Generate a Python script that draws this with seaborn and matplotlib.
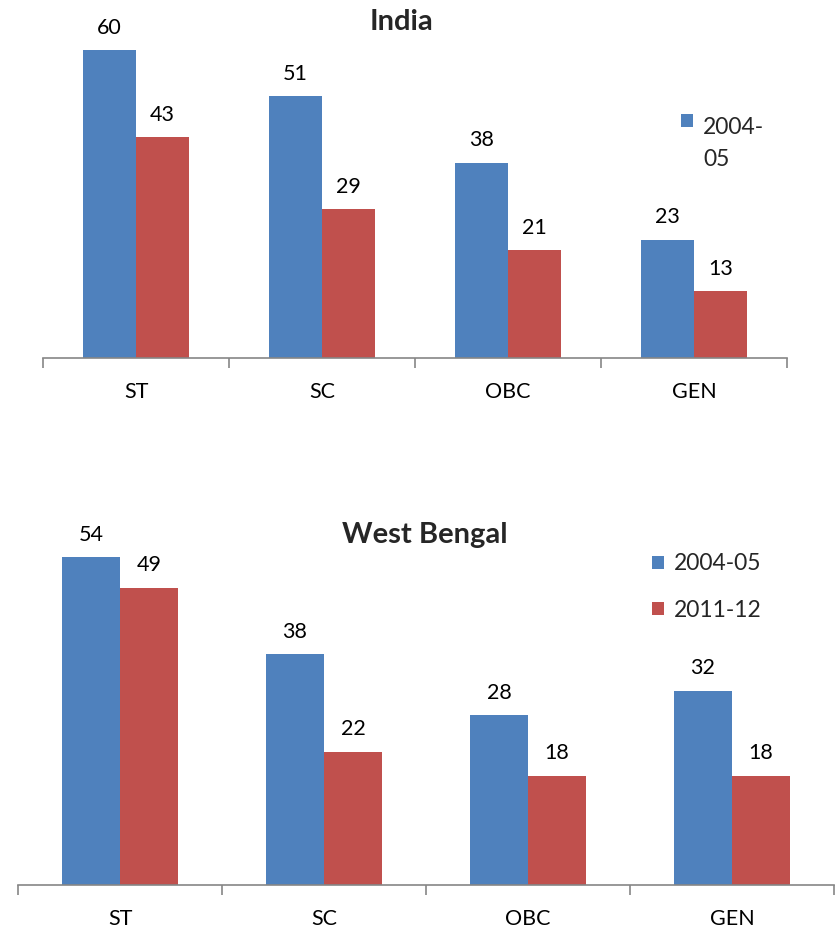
import matplotlib
matplotlib.use("Agg")
import matplotlib.pyplot as plt
import seaborn as sns
import pandas as pd
from matplotlib.patches import Patch, Rectangle
from matplotlib.legend_handler import HandlerPatch

categories = ["ST", "SC", "OBC", "GEN"]
periods = ["2004-05", "2011-12"]
india_0405 = [60, 51, 38, 23]
india_1112 = [43, 29, 21, 13]
wb_0405 = [54, 38, 28, 32]
wb_1112 = [49, 22, 18, 18]

BLUE = "#4F81BD"
RED = "#C0504D"
AXIS_GREY = "#868686"

sns.set_theme(style="white")
plt.rcParams["font.family"] = ["Lato", "DejaVu Sans"]


def frame(a, b):
    return pd.DataFrame({
        "category": categories * 2,
        "period": [periods[0]] * 4 + [periods[1]] * 4,
        "value": list(a) + list(b),
    })


W, H = 836, 934
fig = plt.figure(figsize=(W / 100, H / 100), dpi=100)


def panel(rect_px, ymax, df):
    left, top, right, bottom = rect_px
    ax = fig.add_axes([left / W, 1 - bottom / H, (right - left) / W, (bottom - top) / H])
    sns.barplot(data=df, x="category", y="value", hue="period",
                palette=[BLUE, RED], width=0.57, gap=0, saturation=1,
                order=categories, hue_order=periods, ax=ax, legend=False,
                linewidth=0, errorbar=None)
    ax.set_xlim(-0.5, len(categories) - 0.5)
    ax.set_ylim(0, ymax)
    ax.set_xlabel("")
    ax.set_ylabel("")
    ax.set_yticks([])
    for s in ["left", "top", "right"]:
        ax.spines[s].set_visible(False)
    ax.spines["bottom"].set_color(AXIS_GREY)
    ax.spines["bottom"].set_linewidth(1.2)
    ax.set_xticks(range(len(categories)))
    ax.set_xticklabels(categories, fontsize=15.5, color="black")
    ax.tick_params(axis="x", which="major", length=0, pad=17)
    ax.set_xticks([i - 0.5 for i in range(len(categories) + 1)], minor=True)
    ax.tick_params(axis="x", which="minor", length=7, width=1.2, color=AXIS_GREY,
                   direction="out", bottom=True)
    for cont in ax.containers:
        for bar in cont:
            v = bar.get_height()
            ax.annotate(f"{v:.0f}", (bar.get_x() + bar.get_width() / 2, v),
                        xytext=(0, 9), textcoords="offset points",
                        ha="center", va="bottom", fontsize=15.5, color="black")
    return ax


ax1 = panel((43, 29.5, 787, 358), 64, frame(india_0405, india_1112))
ax2 = panel((18, 521, 834, 885), 60, frame(wb_0405, wb_1112))

fig.text(401 / W, 1 - 22 / H, "India", ha="center", va="center",
         fontsize=21, fontweight="bold")
fig.text(425 / W, 1 - 535 / H, "West Bengal", ha="center", va="center",
         fontsize=21, fontweight="bold")

h_blue = Patch(facecolor=BLUE, edgecolor="none")
h_red = Patch(facecolor=RED, edgecolor="none")


def first_line_square(legend, orig_handle, xdescent, ydescent, width, height, fontsize):
    # keep the marker level with the first line of a wrapped label
    return Rectangle((-xdescent, -ydescent + 17), width, height)


leg1 = fig.legend([h_blue], ["2004-\n05"], loc="upper left",
                  bbox_to_anchor=(670 / W, 1 - 106 / H), frameon=False,
                  fontsize=16.5, handlelength=0.5, handleheight=0.5,
                  handletextpad=0.45, borderpad=0,
                  handler_map={Patch: HandlerPatch(patch_func=first_line_square)})
leg1.get_texts()[0].set_linespacing(1.6)

fig.legend([h_blue, h_red], periods, loc="upper left",
           bbox_to_anchor=(641 / W, 1 - 542 / H), frameon=False,
           fontsize=16.5, handlelength=0.5, handleheight=0.5,
           handletextpad=0.45, labelspacing=1.1, borderpad=0)

fig.savefig("out.png", dpi=100)
